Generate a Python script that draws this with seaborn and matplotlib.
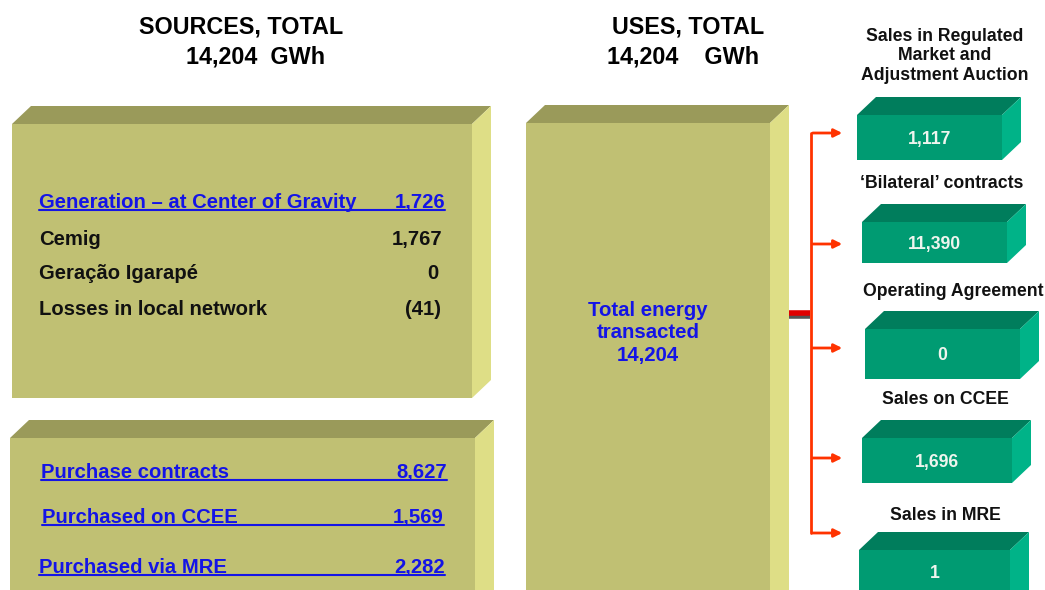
import numpy as np
import matplotlib.pyplot as plt
from matplotlib.patches import Polygon
import seaborn as sns

# data
total_gwh = 14204
gen_labels = ["Generation – at Center of Gravity", "Cemig", "Geração Igarapé", "Losses in local network"]
gen_values = [1726, 1767, 0, -41]
purchase_labels = ["Purchase contracts", "Purchased on CCEE", "Purchased via MRE"]
purchase_values = [8627, 1569, 2282]
use_labels = ["Sales in Regulated\nMarket and\nAdjustment Auction", "‘Bilateral’ contracts",
              "Operating Agreement", "Sales on CCEE", "Sales in MRE"]
use_values = [1117, 11390, 0, 1696, 1]

sns.set_theme(style="white")
plt.rcParams["font.family"] = ["Liberation Sans", "DejaVu Sans"]
plt.rcParams["font.weight"] = "bold"

OLIVE = ("#C0C073", "#9A9A5A", "#DEDE86")
GREEN = ("#009B72", "#007D5C", "#00B388")
BLUE = "#1414E6"
RED = "#FF3300"


def fmt(v):
    return f"({abs(v):,})" if v < 0 else f"{v:,}"


def box3d(ax, x0, y0, x1, y1, colors, dx=19, dy=18):
    front, top, side = colors
    ax.add_patch(Polygon([(x0, y0), (x1, y0), (x1, y1), (x0, y1)], closed=True, fc=front, ec="none", zorder=2))
    ax.add_patch(Polygon([(x0, y0), (x0 + dx, y0 - dy), (x1 + dx, y0 - dy), (x1, y0)], closed=True, fc=top, ec="none", zorder=2))
    ax.add_patch(Polygon([(x1, y0), (x1 + dx, y0 - dy), (x1 + dx, y1 - dy), (x1, y1)], closed=True, fc=side, ec="none", zorder=2))


def row(ax, y, label, value, xl, xr, color, underline):
    # y is the cap-height middle; draw on a shared baseline
    base = y + 7
    ax.text(xl, base, label, ha="left", va="baseline", fontsize=14.6, color=color, fontweight="bold", zorder=3)
    ax.text(xr, base, fmt(value), ha="right", va="baseline", fontsize=14.6, color=color, fontweight="bold", zorder=3)
    if underline:
        ax.plot([xl, xr], [base + 2, base + 2], color=color, lw=1.5, zorder=3)


fig = plt.figure(figsize=(10.45, 5.9), dpi=100)
ax = fig.add_axes([0, 0, 1, 1])
ax.set_xlim(0, 1045)
ax.set_ylim(590, 0)
ax.axis("off")

# titles
ax.text(241, 27, "SOURCES, TOTAL", ha="center", va="center", fontsize=16.8, fontweight="bold", color="black")
ax.text(256, 57, f"{total_gwh:,}  GWh", ha="center", va="center", fontsize=16.8, fontweight="bold", color="black")
ax.text(688, 27, "USES, TOTAL", ha="center", va="center", fontsize=16.8, fontweight="bold", color="black")
ax.text(683, 57, f"{total_gwh:,}    GWh", ha="center", va="center", fontsize=16.8, fontweight="bold", color="black")

# source boxes
box3d(ax, 12, 124, 472, 398, OLIVE)
gen_y = [201, 238, 272, 308]
gen_xr = [445, 442, 438, 441]
for i, (lab, val) in enumerate(zip(gen_labels, gen_values)):
    row(ax, gen_y[i], lab, val, 39, gen_xr[i], BLUE if i == 0 else "#111111", i == 0)

box3d(ax, 10, 438, 475, 640, OLIVE)
pur_y = [471, 516, 566]
pur_xl = [41, 42, 39]
pur_xr = [447, 444, 445]
for i, (lab, val) in enumerate(zip(purchase_labels, purchase_values)):
    row(ax, pur_y[i], lab, val, pur_xl[i], pur_xr[i], BLUE, True)

# centre box
box3d(ax, 526, 123, 770, 640, OLIVE)
ax.text(648, 333, f"Total energy\ntransacted\n{total_gwh:,}", ha="center", va="center",
        fontsize=14.7, fontweight="bold", color=BLUE, linespacing=1.2, zorder=3)

# connectors
arrow_y = [133, 244, 348, 458, 533]
ax.plot([770, 810], [316, 316], color="#555555", lw=4, zorder=1, solid_capstyle="butt")
ax.plot([789, 810], [313, 313], color="#E00000", lw=4, zorder=4, solid_capstyle="butt")
ax.plot([811, 811], [arrow_y[0], arrow_y[-1]], color=RED, lw=2, zorder=4)
for y in arrow_y:
    ax.annotate("", xy=(845, y), xytext=(810, y),
                arrowprops=dict(arrowstyle="-|>", color=RED, lw=2, mutation_scale=12), zorder=4)

# use boxes
green_boxes = [(857, 115, 1002, 160), (862, 222, 1007, 263), (865, 329, 1020, 379),
               (862, 438, 1012, 483), (859, 550, 1010, 640)]
label_y = [56, 183, 292, 400, 516]
label_x = [945, 942, 953, 945, 945]
for (x0, y0, x1, y1), lab, val, ly, lx in zip(green_boxes, use_labels, use_values, label_y, label_x):
    box3d(ax, x0, y0, x1, y1, GREEN)
    vy = 574 if y1 > 590 else (y0 + y1) / 2 + 2
    ax.text((x0 + x1) / 2, vy, fmt(val), ha="center", va="center", fontsize=12.7,
            fontweight="bold", color="#EEF5EE", zorder=3)
    ax.text(lx, ly, lab, ha="center", va="center", fontsize=12.7, fontweight="bold",
            color="#111111", linespacing=1.16)

fig.savefig("out.png", dpi=100)
